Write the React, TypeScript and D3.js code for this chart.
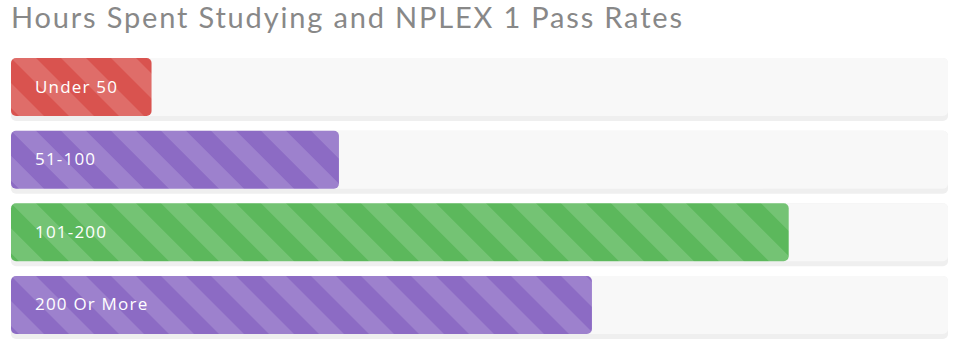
import React from "react";
import * as d3 from "d3";

const title = "Hours Spent Studying and NPLEX 1 Pass Rates";
const categories = ["Under 50", "51-100", "101-200", "200 Or More"];
const passRates = [15, 35, 83, 62];
const barColors = ["#d9534f", "#8c6bc4", "#5cb85c", "#8c6bc4"];

const W = 964;
const H = 351;

const App = () => {
  const x = d3.scaleLinear().domain([0, 100]).range([11, 948]);
  const y = d3
    .scaleBand<string>()
    .domain(categories)
    .range([58, 334])
    .paddingInner(0.2018)
    .paddingOuter(0);
  const bh = y.bandwidth();
  const period = 50 * Math.SQRT1_2; // stripe period perpendicular to stripes

  return (
    <svg
      width={W}
      height={H}
      style={{ position: "absolute", left: 0, top: 0, background: "#fff" }}
    >
      <defs>
        {categories.map((c, i) => (
          <pattern
            key={c}
            id={`stripes-${i}`}
            patternUnits="userSpaceOnUse"
            width={period}
            height={period}
            patternTransform={`translate(${x(0)},${y(c)}) rotate(-45)`}
          >
            <rect width={period} height={period} fill={barColors[i]} />
            <rect width={period / 2} height={period} fill="#fff" fillOpacity={0.15} />
          </pattern>
        ))}
      </defs>

      <text
        x={11}
        y={28}
        fontFamily="Lato, 'Open Sans', sans-serif"
        fontSize={29}
        fill="#888"
        textLength={671}
        lengthAdjust="spacing"
      >
        {title}
      </text>

      {categories.map((c, i) => {
        const top = y(c) as number;
        return (
          <g key={c}>
            {/* track with bottom shadow */}
            <rect x={x(0)} y={top} width={x(100) - x(0)} height={bh + 5} rx={5} fill="#efefef" />
            <rect x={x(0)} y={top} width={x(100) - x(0)} height={bh} rx={5} fill="#f8f8f8" />
            {/* value bar */}
            <rect
              x={x(0)}
              y={top}
              width={x(passRates[i]) - x(0)}
              height={bh}
              rx={5}
              fill={`url(#stripes-${i})`}
            />
            <text
              x={35}
              y={top + bh / 2 + 5.5}
              fontFamily="'Open Sans', sans-serif"
              fontSize={17}
              letterSpacing={1.2}
              fill="#fff"
            >
              {c}
            </text>
          </g>
        );
      })}
    </svg>
  );
};

export default App;
